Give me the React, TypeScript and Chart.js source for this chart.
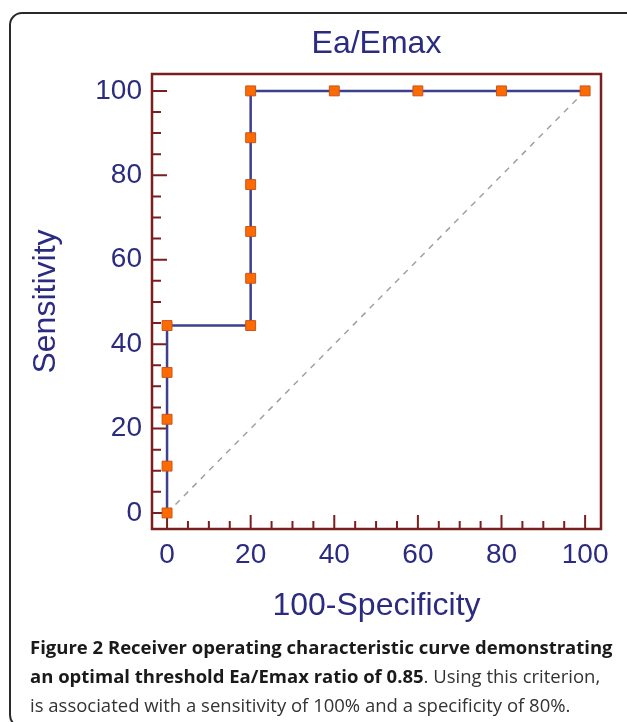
import React, { useEffect, useRef } from 'react';
import { Chart, registerables } from 'chart.js';

Chart.register(...registerables);

// ---- data ----
const rocFpr = [0, 0, 0, 0, 0, 20, 20, 20, 20, 20, 20, 40, 60, 80, 100];
const rocSens = [0, 11.1, 22.2, 33.3, 44.4, 44.4, 55.6, 66.7, 77.8, 88.9, 100, 100, 100, 100, 100];
const refFpr = [0, 100];
const refSens = [0, 100];
const tickLabels = [0, 20, 40, 60, 80, 100];
const chartTitle = 'Ea/Emax';
const xTitle = '100-Specificity';
const yTitle = 'Sensitivity';
const captionBold1 = 'Figure 2 Receiver operating characteristic curve demonstrating';
const captionBold2 = 'an optimal threshold Ea/Emax ratio of 0.85';
const captionRest2 = '. Using this criterion,';
const captionLine3 = 'is associated with a sensitivity of 100% and a specificity of 80%.';

// ---- styles ----
const NAVY = '#2b2b80';
const LINE = '#3f3f8f';
const MAROON = '#7a1f1f';
const FONT = "'Liberation Sans', Arial, sans-serif";

const framePlugin = {
  id: 'frame',
  beforeDatasetsDraw(chart: any) {
    const { ctx, chartArea: a, scales } = chart;
    const x = scales.x;
    const y = scales.y;
    ctx.save();
    ctx.strokeStyle = MAROON;
    ctx.lineWidth = 2;
    ctx.beginPath();
    for (const t of x.ticks) {
      const v = t.value;
      if (v < 0 || v > 100) continue;
      const len = tickLabels.includes(v) ? 14 : 8;
      const px = x.getPixelForValue(v);
      ctx.moveTo(px, a.bottom);
      ctx.lineTo(px, a.bottom - len);
    }
    for (const t of y.ticks) {
      const v = t.value;
      if (v < 0 || v > 100) continue;
      const len = tickLabels.includes(v) ? 15 : 9;
      const py = y.getPixelForValue(v);
      ctx.moveTo(a.left, py);
      ctx.lineTo(a.left + len, py);
    }
    ctx.stroke();
    ctx.lineWidth = 2.5;
    ctx.strokeRect(a.left, a.top, a.right - a.left, a.bottom - a.top);
    ctx.restore();
  },
};

function RocChart() {
  const ref = useRef<HTMLCanvasElement | null>(null);
  useEffect(() => {
    if (!ref.current) return;
    const chart = new Chart(ref.current, {
      type: 'scatter',
      data: {
        datasets: [
          {
            data: rocFpr.map((v, i) => ({ x: v, y: rocSens[i] })),
            showLine: true,
            borderColor: LINE,
            borderWidth: 2.5,
            pointStyle: 'rect',
            pointRadius: 7,
            pointBackgroundColor: '#ff6a00',
            pointBorderColor: '#c4561c',
            pointBorderWidth: 1,
            tension: 0,
            clip: false,
          },
          {
            data: refFpr.map((v, i) => ({ x: v, y: refSens[i] })),
            showLine: true,
            borderColor: '#a0a0a0',
            borderWidth: 1.5,
            borderDash: [6, 6],
            pointRadius: 0,
            tension: 0,
          },
        ],
      } as any,
      options: {
        responsive: false,
        animation: false,
        layout: { padding: { left: 0, right: 26, top: 0, bottom: 0 } },
        plugins: {
          legend: { display: false },
          tooltip: { enabled: false },
          title: {
            display: true,
            text: chartTitle,
            fullSize: false,
            color: NAVY,
            font: { family: FONT, size: 32, weight: 'normal' },
            padding: { top: 25, bottom: 10.6 },
          },
        },
        scales: {
          x: {
            type: 'linear',
            min: -3.6,
            max: 103.8,
            grid: { display: false, drawTicks: false },
            border: { display: false },
            ticks: {
              stepSize: 5,
              autoSkip: false,
              includeBounds: false,
              maxRotation: 0,
              minRotation: 0,
              padding: 9,
              color: NAVY,
              font: { family: FONT, size: 28 },
              callback: (v: any) => (tickLabels.includes(v) ? String(v) : ''),
            },
            title: {
              display: true,
              text: xTitle,
              color: NAVY,
              font: { family: FONT, size: 32 },
              padding: { top: 0, bottom: 15 },
            },
            afterFit: (s: any) => {
              s.height = 111;
            },
          },
          y: {
            type: 'linear',
            min: -3.8,
            max: 104,
            grid: { display: false, drawTicks: false },
            border: { display: false },
            ticks: {
              stepSize: 5,
              autoSkip: false,
              includeBounds: false,
              padding: 10,
              color: NAVY,
              font: { family: FONT, size: 28 },
              callback: (v: any) => (tickLabels.includes(v) ? String(v) : ''),
            },
            title: {
              display: true,
              text: yTitle,
              color: NAVY,
              font: { family: FONT, size: 32 },
              padding: { top: 27, bottom: 0 },
            },
            afterFit: (s: any) => {
              s.width = 152;
            },
          },
        },
      } as any,
      plugins: [framePlugin],
    });
    return () => chart.destroy();
  }, []);
  return (
    <canvas
      ref={ref}
      width={627}
      height={640}
      style={{ position: 'absolute', left: 0, top: 0, width: 627, height: 640 }}
    />
  );
}

export default function App() {
  const capFont = "'Open Sans', 'Noto Sans', sans-serif";
  const lineStyle: React.CSSProperties = {
    position: 'absolute',
    left: 30,
    whiteSpace: 'nowrap',
    fontFamily: capFont,
    fontSize: 18.5,
    lineHeight: '29px',
    color: '#1a1a1a',
  };
  return (
    <div
      style={{
        position: 'absolute',
        left: 0,
        top: 0,
        width: 627,
        height: 722,
        overflow: 'hidden',
        background: '#fff',
      }}
    >
      <div
        style={{
          position: 'absolute',
          left: 9,
          top: 12,
          width: 630,
          height: 712,
          border: '2px solid #2a2a2a',
          borderRadius: 13,
        }}
      />
      <RocChart />
      <div style={{ ...lineStyle, top: 632, fontWeight: 700 }}>{captionBold1}</div>
      <div style={{ ...lineStyle, top: 661 }}>
        <span style={{ fontWeight: 700 }}>{captionBold2}</span>
        <span style={{ color: '#333' }}>{captionRest2}</span>
      </div>
      <div style={{ ...lineStyle, top: 690, color: '#333' }}>{captionLine3}</div>
    </div>
  );
}
